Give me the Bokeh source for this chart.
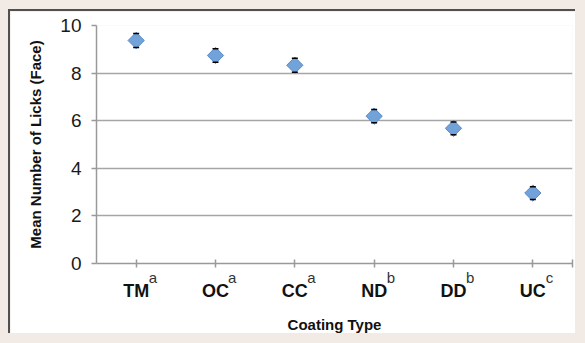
from bokeh.plotting import figure
from bokeh.models import (Range1d, FixedTicker, Whisker, ColumnDataSource, LinearAxis,
                          TeeHead, GlobalInlineStyleSheet)
from bokeh.embed import file_html
from bokeh.resources import INLINE
import math

categories = ["TM", "OC", "CC", "ND", "DD", "UC"]
mean_licks = [9.37, 8.74, 8.33, 6.19, 5.68, 2.96]
errors = [0.29, 0.28, 0.29, 0.28, 0.27, 0.27]
letters = ["a", "a", "a", "b", "b", "c"]
y_ticks = [0, 2, 4, 6, 8, 10]

xs = list(range(len(categories)))
src = ColumnDataSource(dict(
    x=xs, y=mean_licks, lo=[m - e for m, e in zip(mean_licks, errors)],
    hi=[m + e for m, e in zip(mean_licks, errors)]))

p = figure(width=567, height=324, x_range=Range1d(-0.5, len(categories) - 0.5),
           y_range=Range1d(0, 10), output_backend="svg", toolbar_location=None,
           x_axis_location=None,
           min_border_left=86, min_border_top=14, min_border_right=5, min_border_bottom=71,
           background_fill_color="white", border_fill_color="white")
p.outline_line_color = None
p.stylesheets = [GlobalInlineStyleSheet(css="body{background-color:#f2ebe5;}")]
p.styles = {"margin-left": "8px", "margin-top": "9px",
            "border-top": "2px solid #505050", "border-left": "2px solid #505050"}

# grid
p.xgrid.grid_line_color = None
p.ygrid.ticker = FixedTicker(ticks=y_ticks)
p.ygrid.grid_line_color = "#a6a6a6"
p.ygrid.grid_line_width = 1.5

# y axis
p.yaxis.ticker = FixedTicker(ticks=y_ticks)
p.yaxis.axis_line_color = "#999999"
p.yaxis.axis_line_width = 1.5
p.yaxis.major_tick_line_color = "#999999"
p.yaxis.major_tick_line_width = 1.5
p.yaxis.major_tick_out = 5
p.yaxis.major_tick_in = 0
p.yaxis.minor_tick_line_color = None
p.yaxis.major_label_text_font = "Liberation Sans"
p.yaxis.major_label_text_font_size = "19px"
p.yaxis.major_label_text_color = "#1a1a1a"
p.yaxis.major_label_standoff = 10
p.yaxis.axis_label = "Mean Number of Licks (Face)"
p.yaxis.axis_label_text_font = "Liberation Sans"
p.yaxis.axis_label_text_font_style = "bold"
p.yaxis.axis_label_text_font_size = "15px"
p.yaxis.axis_label_text_color = "#111111"
p.yaxis.axis_label_standoff = 13

# x axis line with tick marks (closest to the frame), no labels of its own
tick_pos = xs + [len(categories) - 0.5]
ax_line = LinearAxis(ticker=FixedTicker(ticks=tick_pos),
                     major_label_overrides={t: "" for t in tick_pos},
                     axis_line_color="#999999", axis_line_width=1.5,
                     major_tick_line_color="#999999", major_tick_line_width=1.5,
                     major_tick_out=4, major_tick_in=4, minor_tick_line_color=None,
                     major_label_text_font_size="10px", major_label_standoff=0)
p.add_layout(ax_line, "below")

# significance letters, just right of each tick
letter_shift = 0.21
letter_pos = [i + letter_shift for i in xs]
ax_letters = LinearAxis(ticker=FixedTicker(ticks=letter_pos),
                        major_label_overrides={pos: l for pos, l in zip(letter_pos, letters)},
                        axis_line_color=None, major_tick_line_color=None,
                        minor_tick_line_color=None, major_tick_out=0, major_tick_in=0,
                        major_label_text_font="Liberation Sans",
                        major_label_text_font_size="15px",
                        major_label_text_color="#333333", major_label_standoff=1)
p.add_layout(ax_letters, "below")

# category names + axis title
ax_cat = LinearAxis(ticker=FixedTicker(ticks=xs),
                    major_label_overrides={i: c for i, c in enumerate(categories)},
                    axis_line_color=None, major_tick_line_color=None,
                    minor_tick_line_color=None, major_tick_out=0, major_tick_in=0,
                    major_label_text_font="Liberation Sans",
                    major_label_text_font_style="bold",
                    major_label_text_font_size="18px",
                    major_label_text_color="#111111", major_label_standoff=-8,
                    axis_label="Coating Type", axis_label_text_font="Liberation Sans",
                    axis_label_text_font_style="bold", axis_label_text_font_size="15px",
                    axis_label_text_color="#111111", axis_label_standoff=12)
p.add_layout(ax_cat, "below")

# markers (diamonds)
p.scatter("x", "y", source=src, marker="square", angle=math.pi / 4, size=11.5,
          fill_color="#72a2da", line_color="#5a8bc8", line_width=1)

# error bar caps
w = Whisker(source=src, base="x", lower="lo", upper="hi", dimension="height",
            line_alpha=0, level="overlay",
            upper_head=TeeHead(size=6, line_color="black", line_width=1.5),
            lower_head=TeeHead(size=6, line_color="black", line_width=1.5))
p.add_layout(w)

open("out.html", "w").write(file_html(p, INLINE))
